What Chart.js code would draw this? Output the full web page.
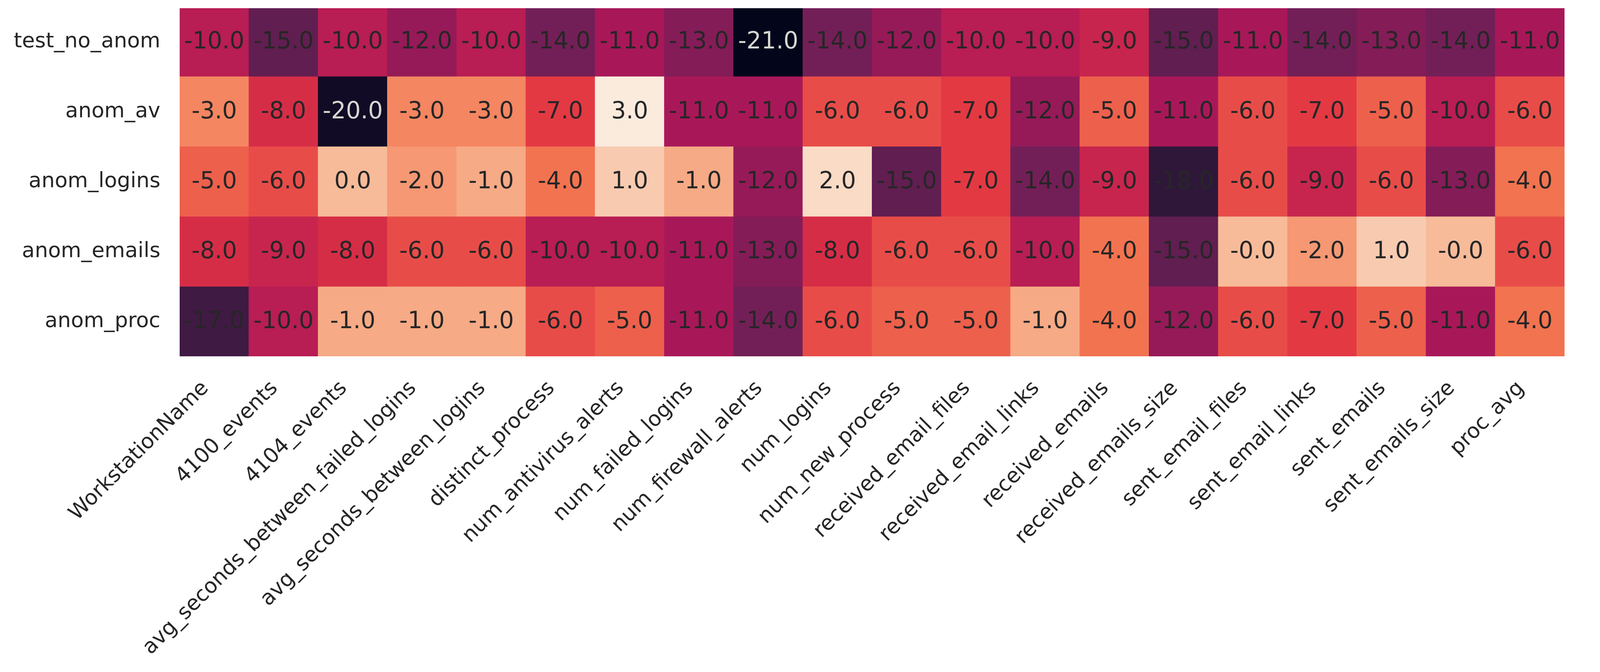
<!DOCTYPE html>
<html>
<head>
<meta charset="utf-8">
<script src="https://cdn.jsdelivr.net/npm/chart.js@4/dist/chart.umd.min.js"></script>
<style>
html,body{margin:0;padding:0;background:#ffffff;overflow:hidden;}
canvas{display:block;}
</style>
</head>
<body>
<canvas id="c"></canvas>
<script>
// ---- data ----
const columns = ['WorkstationName','4100_events','4104_events','avg_seconds_between_failed_logins',
  'avg_seconds_between_logins','distinct_process','num_antivirus_alerts','num_failed_logins',
  'num_firewall_alerts','num_logins','num_new_process','received_email_files','received_email_links',
  'received_emails','received_emails_size','sent_email_files','sent_email_links','sent_emails',
  'sent_emails_size','proc_avg'];
const rowLabels = ['test_no_anom','anom_av','anom_logins','anom_emails','anom_proc'];
const test_no_anom = [-10,-15,-10,-12,-10,-14,-11,-13,-21,-14,-12,-10,-10,-9,-15,-11,-14,-13,-14,-11];
const anom_av      = [-3,-8,-20,-3,-3,-7,3,-11,-11,-6,-6,-7,-12,-5,-11,-6,-7,-5,-10,-6];
const anom_logins  = [-5,-6,0,-2,-1,-4,1,-1,-12,2,-15,-7,-14,-9,-18,-6,-9,-6,-13,-4];
const anom_emails  = [-8,-9,-8,-6,-6,-10,-10,-11,-13,-8,-6,-6,-10,-4,-15,-0,-2,1,-0,-6];
const anom_proc    = [-17,-10,-1,-1,-1,-6,-5,-11,-14,-6,-5,-5,-1,-4,-12,-6,-7,-5,-11,-4];
const rowsData = [test_no_anom, anom_av, anom_logins, anom_emails, anom_proc];

// ---- rocket colormap ----
const rocketStops = [
  [0/7, [3,5,26]], [1/7, [53,25,62]], [2/7, [112,31,87]], [3/7, [173,23,89]],
  [4/7, [225,51,66]], [5/7, [243,118,81]], [6/7, [246,180,143]], [7/7, [250,235,221]]
];
const allVals = rowsData.flat();
const vmin = Math.min(...allVals), vmax = Math.max(...allVals);
function rocket(v){
  let t = (v - vmin) / (vmax - vmin);
  t = Math.max(0, Math.min(1, t));
  for (let i = 1; i < rocketStops.length; i++){
    const [t1, c1] = rocketStops[i];
    const [t0, c0] = rocketStops[i-1];
    if (t <= t1){
      const f = (t - t0) / (t1 - t0);
      const c = c0.map((a, k) => Math.round(a + (c1[k] - a) * f));
      return `rgb(${c[0]},${c[1]},${c[2]})`;
    }
  }
  return 'rgb(250,235,221)';
}
function fmt(v){
  const s = Math.abs(v).toFixed(1);
  return (v < 0 || Object.is(v, -0)) ? '-' + s : s;
}

// ---- sizing: layout designed for 4150x1720, scaled to the actual viewport ----
const W = window.innerWidth || 4150, H = window.innerHeight || 1720;
const sx = W / 4150, sy = H / 1720, sf = (sx + sy) / 2;
const canvas = document.getElementById('c');
canvas.width = W; canvas.height = H;

const FONT = '"DejaVu Sans", "Liberation Sans", sans-serif';

const annotate = {
  id: 'annotate',
  afterDatasetsDraw(chart){
    const ctx = chart.ctx;
    ctx.save();
    ctx.font = `${60 * sf}px ${FONT}`;
    ctx.textAlign = 'center';
    ctx.textBaseline = 'alphabetic';
    chart.data.datasets.forEach((ds, di) => {
      const meta = chart.getDatasetMeta(di);
      meta.data.forEach((el, j) => {
        const v = rowsData[di][j];
        const p = el.getCenterPoint();
        const t = (v - vmin) / (vmax - vmin);
        ctx.fillStyle = t < 0.1 ? '#d6d7d2' : '#262626';
        ctx.fillText(fmt(v), p.x, p.y + 18 * sy);
      });
    });
    ctx.restore();
  }
};

const datasets = rowsData.map((vals, i) => ({
  label: rowLabels[i],
  data: columns.map((c, j) => ({ x: c, y: [i - 0.5, i + 0.5] })),
  backgroundColor: vals.map(v => rocket(v)),
  borderWidth: 0,
  grouped: false,
  barPercentage: 1,
  categoryPercentage: 1,
  inflateAmount: 0.6,
  clip: 0
}));

new Chart(canvas, {
  type: 'bar',
  data: { labels: columns, datasets },
  plugins: [annotate],
  options: {
    responsive: false,
    devicePixelRatio: 1,
    animation: false,
    layout: { padding: { left: 0, top: 21 * sy, right: 92 * sx, bottom: 0 } },
    plugins: { legend: { display: false }, tooltip: { enabled: false } },
    scales: {
      x: {
        type: 'category',
        grid: { display: false, drawTicks: false },
        border: { display: false },
        ticks: {
          autoSkip: false, minRotation: 45, maxRotation: 45,
          padding: 51 * sy, labelOffset: -23 * sx,
          color: '#262626',
          font: { family: FONT, size: 54 * sf }
        },
        afterFit(axis){ axis.height = 808 * sy; axis.paddingLeft = 0; axis.paddingRight = 0; }
      },
      y: {
        type: 'linear',
        min: -0.472, max: rowLabels.length - 0.5,
        reverse: true,
        grid: { display: false, drawTicks: false },
        border: { display: false },
        afterBuildTicks(axis){ axis.ticks = rowLabels.map((_, i) => ({ value: i })); },
        ticks: {
          padding: 50 * sx, labelOffset: 1,
          color: '#262626',
          font: { family: FONT, size: 54 * sf },
          callback: (v) => rowLabels[v]
        },
        afterFit(axis){ axis.width = 466 * sx; axis.paddingTop = 0; axis.paddingBottom = 0; }
      }
    }
  }
});
</script>
</body>
</html>
